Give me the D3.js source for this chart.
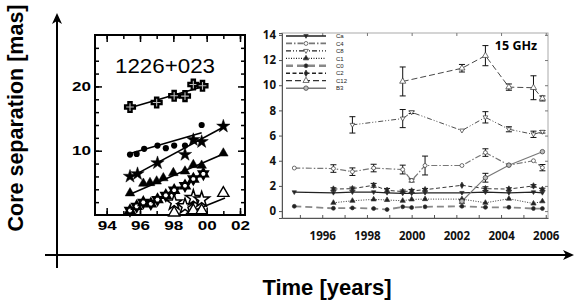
<!DOCTYPE html>
<html>
<head>
<meta charset="utf-8">
<script src="https://cdn.jsdelivr.net/npm/d3@7"></script>
<style>
  body { margin: 0; background: #fff; }
  svg { display: block; }
</style>
</head>
<body>
<div id="chart"></div>
<script>
const svgWidth = 581;
const svgHeight = 307;

// ---- left panel (1226+023), years given as yy, separation in mas
const plusYr = [95.4, 97.0, 98.05, 98.7, 99.2, 99.75];
const plusSep = [16.8, 17.5, 18.55, 18.5, 20.3, 20.1];
const dotYr = [95.4, 95.8, 96.25, 97.05, 97.55, 98.05, 98.7, 99.7];
const dotSep = [9.4, 9.5, 10.3, 10.8, 10.4, 10.8, 10.8, 14.0];
const starYr = [95.4, 95.85, 97.05, 98.7, 99.2, 99.7, 101.0];
const starSep = [6.0, 6.4, 8.1, 9.4, 11.7, 11.4, 13.8];
const triYr = [95.4, 96.2, 96.6, 97.0, 97.4, 98.0, 98.7, 99.2, 99.7, 101.0];
const triSep = [3.4, 4.9, 5.0, 5.25, 5.75, 6.55, 6.8, 7.8, 7.7, 9.6];
const hexYr = [95.4, 95.8, 96.2, 96.65, 97.05, 97.55, 98.05, 98.7, 99.2, 99.8];
const hexSep = [0.7, 1.35, 1.95, 1.75, 2.4, 3.05, 3.85, 4.55, 5.6, 6.4];
const ostarYr = [98.05, 98.7, 99.2, 99.7];
const ostarSep = [1.95, 1.35, 2.65, 2.4];
const otriYr = [98.05, 99.2, 99.7, 101.0];
const otriSep = [0.35, 0.7, 0.7, 3.4];
// straight fits as drawn: [yr0, sep0, yr1, sep1]
const fitLines = [
  [95.3, 16.6, 99.8, 20.0],
  [95.3, 9.5, 99.7, 12.8],
  [95.3, 5.7, 101.1, 13.8],
  [95.3, 3.1, 101.1, 9.6],
  [98.75, 0.2, 101.1, 2.65]
];
const leftXTicks = [94, 96, 98, 100, 102];
const leftYTicks = [10, 20];

// ---- right panel (15 GHz)
const epochs = [1994.75, 1996.5, 1997.35, 1998.3, 1998.9, 1999.6, 2000.0, 2000.6, 2002.25, 2003.3, 2004.35, 2005.45, 2005.85];
const names = ["Ca", "C4", "C8", "C1", "C0", "C2", "C12", "B3"];
const sepCa  = [1.5, 1.45, 1.5, 1.5, 1.45, 1.4, 1.4, 1.45, 1.45, 1.5, 1.45, 1.5, 1.45];
const sepC4  = [3.42, 3.38, 3.13, 3.42, null, 3.3, 2.43, 3.62, 3.62, 4.65, 3.65, 4.0, 3.45];
const sepC8  = [null, null, 6.85, null, null, 7.35, 7.85, null, 6.4, 7.45, 6.5, 6.1, 6.3];
const sepC1  = [null, 0.66, 0.82, 0.93, 0.88, 0.82, 0.93, 0.95, 0.95, 0.66, 0.98, 0.6, 0.78];
const sepC0  = [0.38, 0.22, 0.25, 0.2, 0.12, 0.34, 0.28, 0.34, 0.38, 0.3, 0.3, 0.2, 0.2];
const sepC2  = [null, 1.75, 1.78, 2.05, 1.65, 1.55, 1.6, 1.7, 2.05, 1.78, 1.75, 2.0, 1.72];
const sepC12 = [null, null, null, null, null, 10.3, null, null, 11.35, 12.35, 9.85, 9.8, 8.95];
const sepB3  = [null, null, null, null, null, null, null, null, 0.78, 2.65, 3.65, null, 4.72];
const errC4  = [0, 0.3, 0.3, 0.3, 0, 0.35, 0.12, 0.75, 0, 0.3, 0, 0, 0.25];
const errC8  = [0, 0, 0.65, 0, 0, 0.72, 0.1, 0, 0, 0.45, 0.2, 0.25, 0.1];
const errC2  = [0, 0.1, 0.12, 0.15, 0.15, 0.12, 0.12, 0.1, 0, 0.15, 0.1, 0.1, 0.1];
const errC12 = [0, 0, 0, 0, 0, 1.15, 0, 0, 0.3, 0.8, 0.25, 0.95, 0.2];
const errB3  = [0, 0, 0, 0, 0, 0, 0, 0, 0.15, 0.35, 0, 0, 0];
const rightXTicks = [1996, 1998, 2000, 2002, 2004, 2006];
const rightYTicks = [0, 2, 4, 6, 8, 10, 12, 14];

const svg = d3.select("#chart").append("svg")
  .attr("width", svgWidth)
  .attr("height", svgHeight);

// ======== outer axes with arrows ========
svg.append("line").attr("x1", 57).attr("x2", 57).attr("y1", 268).attr("y2", 20)
  .attr("stroke", "#000").attr("stroke-width", 2);
svg.append("path").attr("d", "M57,13 L52,24 L57,21 L62,24 Z").attr("fill", "#000");
svg.append("line").attr("x1", 45).attr("x2", 567).attr("y1", 255).attr("y2", 255)
  .attr("stroke", "#000").attr("stroke-width", 2);
svg.append("path").attr("d", "M574,255 L563,250 L566,255 L563,260 Z").attr("fill", "#000");

svg.append("text")
  .attr("transform", "translate(23,118) rotate(-90)")
  .attr("text-anchor", "middle")
  .style("font", "bold 21.5px 'Liberation Sans', Arial, sans-serif")
  .text("Core separation [mas]");

svg.append("text")
  .attr("x", 327).attr("y", 295)
  .attr("text-anchor", "middle")
  .style("font", "bold 22px 'Liberation Sans', Arial, sans-serif")
  .text("Time [years]");

// ======== left panel ========
const L = { left: 95, right: 245, top: 35, bottom: 215 };
const xL = d3.scaleLinear().domain([93.3, 102.3]).range([L.left, L.right]);
const yL = d3.scaleLinear().domain([0, 28]).range([L.bottom, L.top]);
const leftG = svg.append("g");

function tickGroup(axis, transform, labels) {
  const g = leftG.append("g").attr("transform", transform).call(axis);
  g.select(".domain").remove();
  g.selectAll("line").attr("stroke", "#000").attr("stroke-width", 1.5);
  if (!labels) g.selectAll("text").remove();
  return g;
}
const yrs = d3.range(94, 103);
const seps = d3.range(2, 28, 2);
tickGroup(d3.axisBottom(xL).tickValues(yrs).tickSize(-4), `translate(0,${L.bottom})`, false);
tickGroup(d3.axisTop(xL).tickValues(yrs).tickSize(-4), `translate(0,${L.top})`, false);
tickGroup(d3.axisLeft(yL).tickValues(seps).tickSize(-4), `translate(${L.left},0)`, false);
tickGroup(d3.axisRight(yL).tickValues(seps).tickSize(-4), `translate(${L.right},0)`, false);
const lxb = tickGroup(d3.axisBottom(xL).tickValues(leftXTicks).tickSize(-7).tickPadding(6)
  .tickFormat(d => String(d % 100).padStart(2, "0")), `translate(0,${L.bottom})`, true);
tickGroup(d3.axisTop(xL).tickValues(leftXTicks).tickSize(-7), `translate(0,${L.top})`, false);
const lyl = tickGroup(d3.axisLeft(yL).tickValues(leftYTicks).tickSize(-7).tickPadding(4), `translate(${L.left},0)`, true);
tickGroup(d3.axisRight(yL).tickValues(leftYTicks).tickSize(-7), `translate(${L.right},0)`, false);
[lxb, lyl].forEach(g => g.selectAll("text")
  .style("font", "bold 13px 'Liberation Sans', Arial, sans-serif")
  .attr("fill", "#000")
  .attr("textLength", 19).attr("lengthAdjust", "spacingAndGlyphs"));

leftG.append("rect")
  .attr("x", L.left).attr("y", L.top)
  .attr("width", L.right - L.left).attr("height", L.bottom - L.top)
  .attr("fill", "none").attr("stroke", "#000").attr("stroke-width", 2);

leftG.append("text")
  .attr("x", 165).attr("y", 73)
  .attr("text-anchor", "middle")
  .attr("textLength", 100).attr("lengthAdjust", "spacingAndGlyphs")
  .style("font", "20.5px 'Liberation Sans', Arial, sans-serif")
  .text("1226+023");

leftG.selectAll(".fit").data(fitLines).enter().append("line")
  .attr("x1", d => xL(d[0])).attr("y1", d => yL(d[1]))
  .attr("x2", d => xL(d[2])).attr("y2", d => yL(d[3]))
  .attr("stroke", "#000").attr("stroke-width", 1.6);

const hexagram = {
  draw(ctx, size) {
    const r = Math.sqrt(size) * 0.62;
    for (const start of [-90, 90]) {
      for (let k = 0; k < 3; k++) {
        const a = (start + k * 120) * Math.PI / 180;
        const px = r * Math.cos(a), py = r * Math.sin(a);
        if (k === 0) ctx.moveTo(px, py); else ctx.lineTo(px, py);
      }
      ctx.closePath();
    }
  }
};

function leftMarks(xs, ys, type, size, fill, sw) {
  leftG.append("g").selectAll("path")
    .data(xs.map((x, i) => [x, ys[i]]))
    .enter().append("path")
    .attr("transform", d => `translate(${xL(d[0])},${yL(d[1])})`)
    .attr("d", d3.symbol().type(type).size(size))
    .attr("fill", fill)
    .attr("stroke", "#000")
    .attr("stroke-width", sw);
}
leftMarks(plusYr, plusSep, d3.symbolCross, 55, "#bbb", 2.2);
leftMarks(dotYr, dotSep, d3.symbolCircle, 30, "#000", 0);
leftMarks(starYr, starSep, d3.symbolStar, 55, "#000", 0.5);
leftMarks(triYr, triSep, d3.symbolTriangle, 40, "#000", 0.5);
leftMarks(hexYr, hexSep, hexagram, 80, "#fff", 1.8);
leftMarks(ostarYr, ostarSep, d3.symbolStar, 75, "#fff", 1.5);
leftMarks(otriYr, otriSep, d3.symbolTriangle, 55, "#fff", 1.4);

// ======== right panel ========
const R = { left: 282, right: 548, top: 33, bottom: 218 };
const xR = d3.scaleLinear().domain([1994.2, 2006.1]).range([R.left, R.right]);
const yR = d3.scaleLinear().domain([-0.55, 14.15]).range([R.bottom, R.top]);
const rightG = svg.append("g");
const labelFont = "bold 11.5px 'Open Sans', sans-serif";

rightG.append("rect")
  .attr("x", R.left).attr("y", R.top)
  .attr("width", R.right - R.left).attr("height", R.bottom - R.top)
  .attr("fill", "none").attr("stroke", "#aaa").attr("stroke-width", 1);

const yAxisR = rightG.append("g")
  .attr("transform", `translate(${R.left},0)`)
  .call(d3.axisLeft(yR).tickValues(rightYTicks).tickSize(3).tickPadding(3));
yAxisR.select(".domain").attr("stroke", "#555");
yAxisR.selectAll("line").attr("stroke", "#555");
yAxisR.selectAll("text").style("font", labelFont).attr("fill", "#111");

rightG.append("g").attr("transform", `translate(${R.right},0)`)
  .call(d3.axisLeft(yR).tickValues(rightYTicks).tickSize(3).tickFormat(""))
  .call(g => g.select(".domain").remove())
  .selectAll("line").attr("stroke", "#777");

const xAxisR = rightG.append("g")
  .attr("transform", `translate(0,${R.bottom})`)
  .call(d3.axisBottom(xR).tickValues(rightXTicks).tickSize(0).tickPadding(14).tickFormat(d3.format("d")));
xAxisR.select(".domain").attr("stroke", "#555");
xAxisR.selectAll("text").style("font", labelFont).attr("fill", "#111");

rightG.append("g").attr("transform", `translate(0,${R.bottom})`)
  .call(d3.axisTop(xR).tickValues(d3.range(1995, 2007)).tickSize(3).tickFormat(""))
  .call(g => g.select(".domain").remove())
  .selectAll("line").attr("stroke", "#555");
rightG.append("g").attr("transform", `translate(0,${R.top})`)
  .call(d3.axisBottom(xR).tickValues(rightXTicks).tickSize(3).tickFormat(""))
  .call(g => g.select(".domain").remove())
  .selectAll("line").attr("stroke", "#777");

const downTri = {
  draw(ctx, size) {
    const h = Math.sqrt(size) * 0.62;
    ctx.moveTo(0, h);
    ctx.lineTo(h * 0.95, -h * 0.6);
    ctx.lineTo(-h * 0.95, -h * 0.6);
    ctx.closePath();
  }
};

const styles = {
  Ca:  { color: "#222", width: 1.2, dash: null, sym: downTri, fill: "#222", size: 14 },
  C4:  { color: "#777", width: 1.2, dash: "6,2,1.5,2", sym: d3.symbolCircle, fill: "#fff", size: 12 },
  C8:  { color: "#222", width: 0.8, dash: "5,2,1,2,1,2", sym: downTri, fill: "#fff", size: 16 },
  C1:  { color: "#222", width: 0.9, dash: "1,1.5", sym: d3.symbolTriangle, fill: "#222", size: 12 },
  C0:  { color: "#888", width: 1.8, dash: "7,4", sym: d3.symbolCircle, fill: "#222", size: 12 },
  C2:  { color: "#222", width: 0.9, dash: "4,2.5", sym: d3.symbolDiamond, fill: "#222", size: 12 },
  C12: { color: "#333", width: 0.9, dash: "6,3", sym: d3.symbolTriangle, fill: "#fff", size: 16 },
  B3:  { color: "#777", width: 1.1, dash: null, sym: d3.symbolCircle, fill: "#bbb", size: 16 }
};
const seriesSep = { Ca: sepCa, C4: sepC4, C8: sepC8, C1: sepC1, C0: sepC0, C2: sepC2, C12: sepC12, B3: sepB3 };
const seriesErr = { C4: errC4, C8: errC8, C2: errC2, C12: errC12, B3: errB3 };

const lineGen = d3.line().x(d => xR(d.t)).y(d => yR(d.v));
const seriesData = names.map(n => ({
  name: n,
  pts: epochs.map((t, i) => ({ t, v: seriesSep[n][i], e: seriesErr[n] ? seriesErr[n][i] : 0 }))
    .filter(d => d.v !== null)
}));

const plotG = rightG.append("g");
seriesData.forEach(s => {
  const st = styles[s.name];
  plotG.append("path")
    .attr("d", lineGen(s.pts))
    .attr("fill", "none")
    .attr("stroke", st.color)
    .attr("stroke-width", st.width)
    .attr("stroke-dasharray", st.dash);
});
seriesData.forEach(s => {
  const eb = plotG.append("g").selectAll("g")
    .data(s.pts.filter(d => d.e > 0))
    .enter().append("g")
    .attr("stroke", "#111").attr("stroke-width", 1);
  eb.append("line")
    .attr("x1", d => xR(d.t)).attr("x2", d => xR(d.t))
    .attr("y1", d => yR(d.v - d.e)).attr("y2", d => yR(d.v + d.e));
  [-1, 1].forEach(sgn => eb.append("line")
    .attr("x1", d => xR(d.t) - 3).attr("x2", d => xR(d.t) + 3)
    .attr("y1", d => yR(d.v + sgn * d.e)).attr("y2", d => yR(d.v + sgn * d.e)));
});
seriesData.forEach(s => {
  const st = styles[s.name];
  plotG.append("g").selectAll("path")
    .data(s.pts)
    .enter().append("path")
    .attr("transform", d => `translate(${xR(d.t)},${yR(d.v)})`)
    .attr("d", d3.symbol().type(st.sym).size(st.size))
    .attr("fill", st.fill)
    .attr("stroke", "#333")
    .attr("stroke-width", 0.7);
});

// legend
const legend = rightG.append("g").selectAll("g")
  .data(names)
  .enter().append("g")
  .attr("transform", (d, i) => `translate(286,${36 + i * 7.45})`);
legend.append("line")
  .attr("x1", 0).attr("x2", 40)
  .attr("stroke", d => styles[d].color)
  .attr("stroke-width", d => styles[d].width * 1.4)
  .attr("stroke-dasharray", d => styles[d].dash);
legend.append("path")
  .attr("transform", "translate(20,0)")
  .attr("d", d => d3.symbol().type(styles[d].sym).size(styles[d].size)())
  .attr("fill", d => styles[d].fill)
  .attr("stroke", "#333").attr("stroke-width", 0.7);
legend.append("text")
  .attr("x", 50).attr("y", 2.2)
  .style("font", "6px 'Liberation Sans', Arial, sans-serif")
  .attr("fill", "#222")
  .text(d => d);

rightG.append("text")
  .attr("x", 516).attr("y", 50)
  .attr("text-anchor", "middle")
  .style("font", "bold 12.5px 'Open Sans', sans-serif")
  .text("15 GHz");
</script>
</body>
</html>
